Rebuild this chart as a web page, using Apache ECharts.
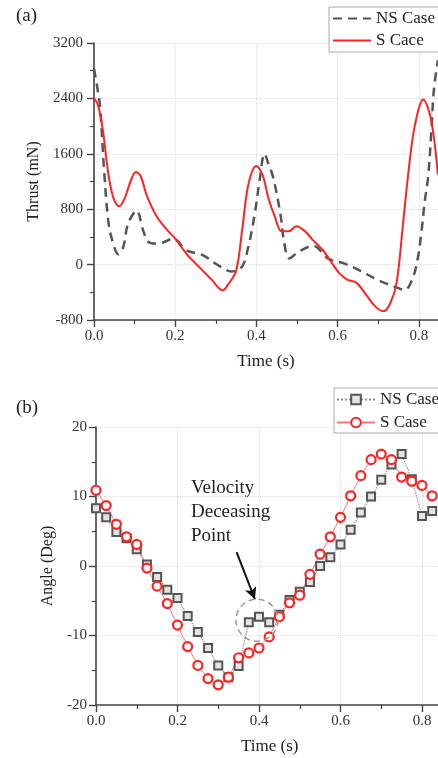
<!DOCTYPE html>
<html>
<head>
<meta charset="utf-8">
<script src="https://cdn.jsdelivr.net/npm/echarts@6/dist/echarts.min.js"></script>
<style>html,body{margin:0;padding:0;background:#fff;}#c{width:438px;height:758px;}</style>
</head>
<body>
<div id="c"></div>
<script>
// ---------- Panel (a): Thrust ----------
const thrustNS_t = [0, 0.008, 0.015, 0.025, 0.035, 0.046, 0.06, 0.072, 0.084, 0.105, 0.121, 0.134, 0.154, 0.17, 0.195, 0.228, 0.269, 0.306, 0.339, 0.364, 0.38, 0.396, 0.408, 0.42, 0.43, 0.441, 0.459, 0.469, 0.481, 0.503, 0.54, 0.577, 0.617, 0.654, 0.692, 0.72, 0.753, 0.765, 0.786, 0.798, 0.807, 0.815, 0.823, 0.831, 0.837, 0.847];
const thrustNS_v = [2830, 2560, 2270, 1350, 640, 327, 150, 254, 592, 780, 495, 327, 305, 320, 375, 206, 134, -10, -100, -35, 254, 736, 1217, 1600, 1450, 1265, 736, 300, 90, 182, 270, 87, 14, -82, -202, -274, -347, -370, -179, 110, 495, 928, 1265, 1939, 2517, 2950];
const thrustS_t = [0, 0.008, 0.016, 0.024, 0.032, 0.04, 0.05, 0.062, 0.075, 0.09, 0.103, 0.115, 0.13, 0.155, 0.18, 0.2, 0.23, 0.26, 0.29, 0.317, 0.33, 0.35, 0.365, 0.38, 0.4, 0.415, 0.43, 0.445, 0.462, 0.48, 0.498, 0.52, 0.54, 0.565, 0.585, 0.605, 0.625, 0.646, 0.671, 0.692, 0.712, 0.728, 0.745, 0.762, 0.775, 0.79, 0.811, 0.83, 0.847];
const thrustS_v = [2405, 2330, 2150, 1850, 1450, 1150, 930, 842, 950, 1200, 1337, 1280, 1000, 690, 500, 375, 140, -40, -220, -371, -290, -90, 500, 1150, 1424, 1300, 950, 700, 480, 480, 553, 480, 350, 200, 30, -130, -220, -260, -440, -600, -674, -580, -274, 640, 1362, 2000, 2383, 2100, 1300];
const thrustTicks = [-800, 0, 800, 1600, 2400, 3200];

// ---------- Panel (b): Angle ----------
const timeB = [0, 0.025, 0.05, 0.075, 0.1, 0.125, 0.15, 0.175, 0.2, 0.225, 0.25, 0.275, 0.3, 0.325, 0.35, 0.375, 0.4, 0.425, 0.45, 0.475, 0.5, 0.525, 0.55, 0.575, 0.6, 0.625, 0.65, 0.675, 0.7, 0.725, 0.75, 0.775, 0.8, 0.825];
const angleNS = [8.3, 7.0, 4.9, 4.0, 2.4, 0.2, -1.6, -3.4, -4.6, -7.2, -9.5, -11.8, -14.3, -16.0, -14.4, -8.1, -7.3, -8.1, -7.0, -4.9, -3.7, -2.3, 0.0, 1.25, 3.1, 5.2, 7.7, 10.0, 12.4, 14.6, 16.1, 12.5, 7.2, 7.9];
const angleS = [10.9, 8.7, 6.0, 4.2, 3.1, -0.3, -2.9, -5.4, -8.5, -11.6, -14.3, -16.2, -17.1, -16.0, -13.2, -12.5, -11.8, -10.2, -7.3, -5.3, -4.2, -1.2, 1.7, 4.2, 7.0, 10.1, 13.0, 15.3, 16.1, 15.3, 12.8, 12.2, 11.6, 10.1];
const angleTicks = [-20, -10, 0, 10, 20];
const timeTicks = [0.0, 0.2, 0.4, 0.6, 0.8];

const FONT = 'Liberation Serif';
const zip = (a, b) => a.map((x, i) => [x, b[i]]);

function xAx(gi, gapPad) {
  return {
    type: 'value', gridIndex: gi, min: 0, max: 1.0, interval: 0.2,
    name: 'Time (s)', nameLocation: 'middle', nameGap: 33,
    nameTextStyle: { fontFamily: FONT, fontSize: 17, color: '#222', padding: [0, gapPad, 0, 0] },
    axisLine: { onZero: false, lineStyle: { color: '#444', width: 1.6 } },
    axisTick: { show: true, length: 7, lineStyle: { color: '#444', width: 1.4 } },
    minorTick: { show: true, splitNumber: 2, length: 4, lineStyle: { color: '#444', width: 1.2 } },
    axisLabel: { fontFamily: FONT, fontSize: 15, color: '#333', margin: 9, formatter: v => v.toFixed(1) },
    splitLine: { show: true, lineStyle: { color: '#dcdcdc', type: 'dotted', width: 1 } }
  };
}
function yAx(gi, ticks, name, gap, margin) {
  return {
    type: 'value', gridIndex: gi, min: ticks[0], max: ticks[ticks.length - 1], interval: ticks[1] - ticks[0],
    name: name, nameLocation: 'middle', nameGap: gap,
    nameTextStyle: { fontFamily: FONT, fontSize: 16, color: '#222' },
    axisLine: { show: true, onZero: false, lineStyle: { color: '#444', width: 1.6 } },
    axisTick: { show: true, length: 7, lineStyle: { color: '#444', width: 1.4 } },
    minorTick: { show: true, splitNumber: 2, length: 4, lineStyle: { color: '#444', width: 1.2 } },
    axisLabel: { fontFamily: FONT, fontSize: 15, color: '#333', margin: margin, formatter: v => String(v) },
    splitLine: { show: true, lineStyle: { color: '#dcdcdc', type: 'dotted', width: 1 } }
  };
}

const chart = echarts.init(document.getElementById('c'), null, { renderer: 'canvas' });
chart.setOption({
  animation: false,
  backgroundColor: '#fff',
  grid: [
    { left: 94, top: 43, right: -62, bottom: 438, containLabel: false, outerBoundsMode: 'none' },
    { left: 96, top: 427, right: -65.5, bottom: 53, containLabel: false, outerBoundsMode: 'none' }
  ],
  xAxis: [xAx(0, 62), xAx(1, 60)],
  yAxis: [yAx(0, thrustTicks, 'Thrust (mN)', 46, 11), yAx(1, angleTicks, 'Angle (Deg)', 27, 9)],
  legend: [
    {
      data: ['NS Case', 'S Cace'], orient: 'vertical', left: 329, top: 7,
      itemWidth: 38, itemHeight: 14, itemGap: 5, padding: [3, 40, 3, 3],
      backgroundColor: '#fff', borderColor: '#aaa', borderWidth: 1,
      itemStyle: { opacity: 0 },
      textStyle: { fontFamily: FONT, fontSize: 17, color: '#222' }, selectedMode: false
    },
    {
      data: ['NS Case ', 'S Case'], orient: 'vertical', left: 334, top: 388,
      itemWidth: 38, itemHeight: 12, itemGap: 6, padding: [3, 40, 2, 2],
      backgroundColor: '#fff', borderColor: '#aaa', borderWidth: 1,
      textStyle: { fontFamily: FONT, fontSize: 17, color: '#222' }, selectedMode: false
    }
  ],
  graphic: [
    { type: 'text', left: 16, top: 7, style: { text: '(a)', font: '19px "Liberation Serif"', fill: '#222' } },
    { type: 'text', left: 16, top: 399, style: { text: '(b)', font: '19px "Liberation Serif"', fill: '#222' } },
    { type: 'text', left: 191, top: 476, style: { text: 'Velocity\nDeceasing\nPoint', font: '19px "Liberation Serif"', lineHeight: 24, fill: '#222' } }
  ],
  series: [
    {
      name: 'NS Case', type: 'line', xAxisIndex: 0, yAxisIndex: 0,
      data: zip(thrustNS_t, thrustNS_v), smooth: 0.35, symbol: 'none',
      lineStyle: { color: '#555', width: 2.5, type: [9, 6] }, itemStyle: { color: '#555' }
    },
    {
      name: 'S Cace', type: 'line', xAxisIndex: 0, yAxisIndex: 0,
      data: zip(thrustS_t, thrustS_v), smooth: 0.35, symbol: 'none',
      lineStyle: { color: '#f22', width: 2 }, itemStyle: { color: '#f22' }
    },
    {
      name: 'NS Case ', type: 'line', xAxisIndex: 1, yAxisIndex: 1,
      data: zip(timeB, angleNS), symbol: 'rect', symbolSize: 8,
      lineStyle: { color: '#888', width: 1.2, type: 'dotted' },
      itemStyle: { color: '#e4e4e4', borderColor: '#555', borderWidth: 2 },
      markPoint: {
        symbol: 'circle', symbolSize: 42, silent: true,
        label: { show: false },
        itemStyle: { color: 'rgba(0,0,0,0)', borderColor: '#999', borderWidth: 1.5, borderType: [6, 4] },
        data: [{ coord: [0.395, -7.8] }]
      },
      markLine: {
        silent: true, symbol: ['none', 'arrow'], symbolSize: [9, 12],
        label: { show: false },
        lineStyle: { color: '#111', width: 2, type: 'solid' },
        data: [[{ coord: [0.345, 2.0] }, { coord: [0.39, -4.8] }]]
      }
    },
    {
      name: 'S Case', type: 'line', xAxisIndex: 1, yAxisIndex: 1,
      data: zip(timeB, angleS), symbol: 'circle', symbolSize: 9,
      lineStyle: { color: '#f77', width: 1 },
      itemStyle: { color: '#fff', borderColor: '#f22', borderWidth: 2.2 }
    }
  ]
});
</script>
</body>
</html>
